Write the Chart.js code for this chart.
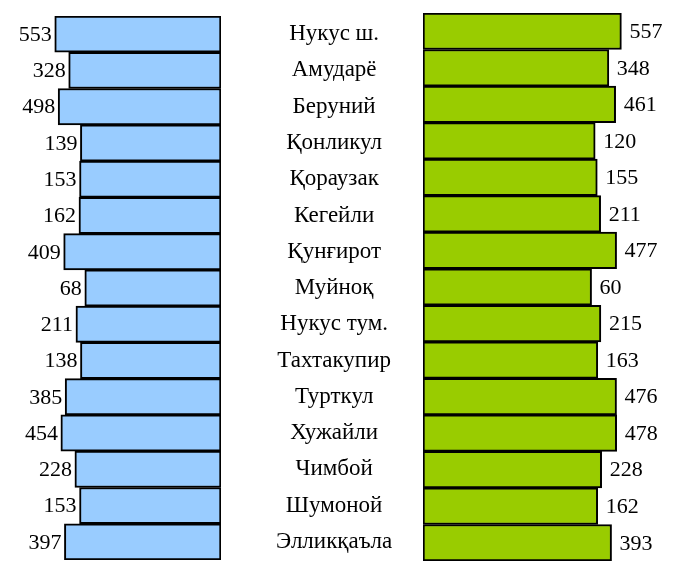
<!DOCTYPE html>
<html>
<head>
<meta charset="utf-8">
<script src="https://cdn.jsdelivr.net/npm/chart.js@4/dist/chart.umd.min.js"></script>
<style>
  body { margin: 0; background: #fff; }
  #wrap { position: relative; width: 673px; height: 567px; }
  #wrap canvas { position: absolute; left: 0; top: 0; }
</style>
</head>
<body>
<div id="wrap">
  <canvas id="leftChart" width="673" height="567"></canvas>
  <canvas id="rightChart" width="673" height="567"></canvas>
</div>
<script>
const districts = ['Нукус ш.', 'Амударё', 'Беруний', 'Қонликул', 'Қораузак', 'Кегейли', 'Қунғирот',
    'Муйноқ', 'Нукус тум.', 'Тахтакупир', 'Турткул', 'Хужайли', 'Чимбой', 'Шумоной', 'Элликқаъла'];
const leftValues = [553, 328, 498, 139, 153, 162, 409, 68, 211, 138, 385, 454, 228, 153, 397];
const rightValues = [557, 348, 461, 120, 155, 211, 477, 60, 215, 163, 476, 478, 228, 162, 393];

const serif = "'Liberation Serif', 'DejaVu Serif', serif";

// value labels next to the bar ends
const valueLabels = {
    id: 'valueLabels',
    afterDatasetsDraw(chart, args, opts) {
        const ctx = chart.ctx;
        const meta = chart.getDatasetMeta(0);
        const values = chart.data.datasets[0].data;
        ctx.save();
        ctx.font = '22px ' + serif;
        ctx.fillStyle = '#000';
        ctx.textBaseline = 'middle';
        ctx.textAlign = opts.side === 'left' ? 'right' : 'left';
        meta.data.forEach((bar, i) => {
            const x = opts.side === 'left' ? bar.x - 3 : bar.x + 8;
            ctx.fillText(String(values[i]), x, bar.y + 1);
        });
        ctx.restore();
    }
};

// blue bars growing to the left, district names in the middle
new Chart(document.getElementById('leftChart'), {
    type: 'bar',
    data: {
        labels: districts,
        datasets: [{
            data: leftValues,
            base: -2129,
            backgroundColor: '#99CCFF',
            borderColor: '#000',
            borderWidth: 2,
            borderSkipped: false,
            barPercentage: 1,
            categoryPercentage: 1
        }]
    },
    options: {
        indexAxis: 'y',
        responsive: false,
        animation: false,
        layout: { padding: { top: 16, bottom: 7, left: 0, right: 249 } },
        plugins: {
            legend: { display: false },
            tooltip: { enabled: false },
            valueLabels: { side: 'left' }
        },
        scales: {
            x: {
                reverse: true,
                min: -2129,
                max: 1436,
                display: false
            },
            y: {
                position: 'right',
                // invisible tick marks push the names towards the middle
                grid: { display: true, color: 'transparent', drawTicks: true, tickLength: 55 },
                border: { display: false },
                afterFit: function (axis) {
                    axis.width = 203;
                    axis.paddingTop = 0;
                    axis.paddingBottom = 0;
                },
                ticks: {
                    crossAlign: 'center',
                    padding: 0,
                    color: '#000',
                    font: { family: serif, size: 23 }
                }
            }
        }
    },
    plugins: [valueLabels]
});

// green bars growing to the right
new Chart(document.getElementById('rightChart'), {
    type: 'bar',
    data: {
        labels: districts,
        datasets: [{
            data: rightValues,
            base: -2750,
            backgroundColor: '#99CC00',
            borderColor: '#000',
            borderWidth: 2,
            borderSkipped: false,
            barPercentage: 1,
            categoryPercentage: 1
        }]
    },
    options: {
        indexAxis: 'y',
        responsive: false,
        animation: false,
        layout: { padding: { top: 13, bottom: 6, left: 423, right: 0 } },
        plugins: {
            legend: { display: false },
            tooltip: { enabled: false },
            valueLabels: { side: 'right' }
        },
        scales: {
            x: { min: -2750, max: 1417, display: false },
            y: { display: false }
        }
    },
    plugins: [valueLabels]
});
</script>
</body>
</html>
